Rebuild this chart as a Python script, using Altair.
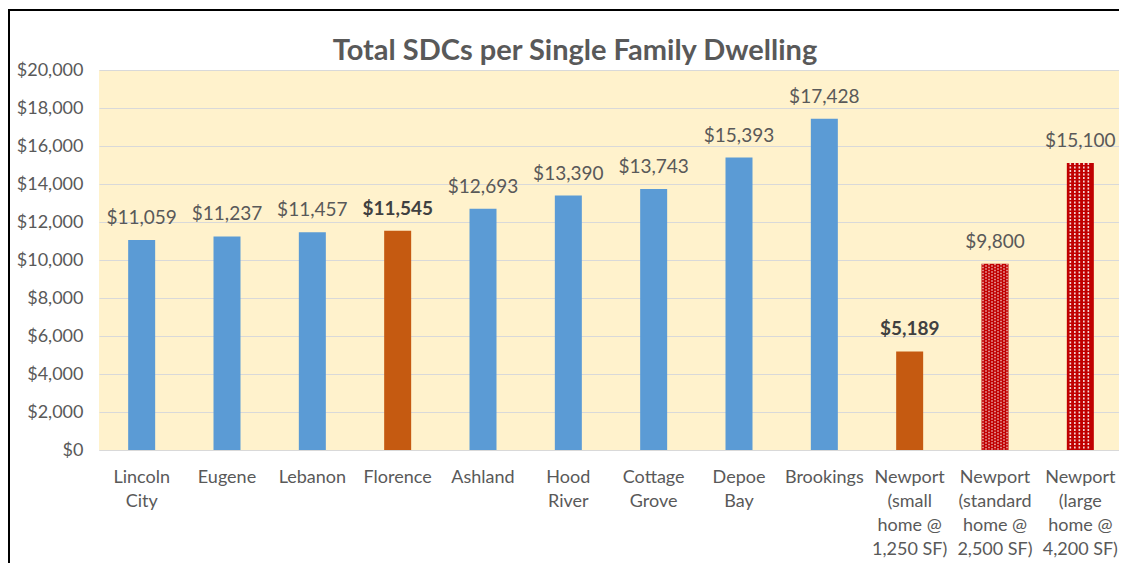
import altair as alt
import pandas as pd

title_text = "Total SDCs per Single Family Dwelling"
categories = [
    "Lincoln|City", "Eugene", "Lebanon", "Florence", "Ashland", "Hood|River",
    "Cottage|Grove", "Depoe|Bay", "Brookings",
    "Newport|(small|home @|1,250 SF)",
    "Newport|(standard|home @|2,500 SF)",
    "Newport|(large|home @|4,200 SF)",
]
values = [11059, 11237, 11457, 11545, 12693, 13390, 13743, 15393, 17428, 5189, 9800, 15100]
groups = ["other", "other", "other", "florence", "other", "other", "other", "other", "other",
          "newport_small", "newport_standard", "newport_large"]
bold = [False, False, False, True, False, False, False, False, False, True, False, False]
y_ticks = [0, 2000, 4000, 6000, 8000, 10000, 12000, 14000, 16000, 18000, 20000]

df = pd.DataFrame({"cat": categories, "value": values, "group": groups, "bold": bold})

FONT = "Lato"
GRAY = "#595959"

x_enc = alt.X("cat:N", sort=categories,
              scale=alt.Scale(range=[0, 1024], paddingInner=0, paddingOuter=0),
              axis=alt.Axis(title=None, labelAngle=0, labelExpr="split(datum.value, '|')",
                            labelFontSize=18, labelColor=GRAY, labelLineHeight=24,
                            labelPadding=18, ticks=False, domain=True, domainColor="#D9D9D9",
                            grid=False, labelFont=FONT, labelOverlap=False))
y_enc = alt.Y("value:Q", scale=alt.Scale(domain=[0, 20000], nice=False),
              axis=alt.Axis(title=None, values=y_ticks, format="$,.0f", labelFontSize=18,
                            labelColor=GRAY, labelPadding=16, ticks=False, domain=False,
                            grid=True, gridColor="#D9D9D9", gridWidth=1, labelFont=FONT,
                            labelOverlap=False))

base = alt.Chart(df)

bars = base.mark_bar(size=27).encode(
    x=x_enc, y=y_enc,
    color=alt.Color("group:N", legend=None,
                    scale=alt.Scale(domain=["other", "florence", "newport_small", "newport_standard", "newport_large"],
                                    range=["#5B9BD5", "#C55A11", "#C55A11", "#C00000", "#C00000"])),
)

layers = [bars]

# hatch texture for standard home (checkered dots)
for i, off in enumerate([-12, -9, -6, -3, 0, 3, 6, 9, 12]):
    layers.append(
        base.transform_filter(alt.datum.group == "newport_standard").mark_rule(
            color="white", strokeWidth=1.3, strokeDash=[1.5, 1.5],
            strokeDashOffset=(1.5 if i % 2 else 0), xOffset=off, opacity=0.8
        ).encode(x=x_enc, y=y_enc, y2=alt.datum(0))
    )
# hatch texture for large home (vertical dotted stripes)
for off in [-10, -5.5, -1, 3.5, 8]:
    layers.append(
        base.transform_filter(alt.datum.group == "newport_large").mark_rule(
            color="white", strokeWidth=1.6, strokeDash=[2, 1.5], xOffset=off, opacity=0.85
        ).encode(x=x_enc, y=y_enc, y2=alt.datum(0))
    )

labels_normal = base.transform_filter(alt.datum.bold == False).mark_text(
    baseline="middle", dy=-22, fontSize=19, color=GRAY, font=FONT
).encode(x=x_enc, y=y_enc, text=alt.Text("value:Q", format="$,.0f"))
labels_bold = base.transform_filter(alt.datum.bold == True).mark_text(
    baseline="middle", dy=-22, fontSize=19, color="#404040", fontWeight="bold", font=FONT
).encode(x=x_enc, y=y_enc, text=alt.Text("value:Q", format="$,.0f"))
layers += [labels_normal, labels_bold]

one = pd.DataFrame({"t": [title_text]})
title = alt.Chart(one).mark_text(
    fontSize=29, fontWeight="bold", color=GRAY, font=FONT, align="center", baseline="middle"
).encode(text="t:N", x=alt.value(476), y=alt.value(-19))
border = alt.Chart(one).mark_rect(
    fillOpacity=0, stroke="black", strokeWidth=2
).encode(x=alt.value(-90), x2=alt.value(1300), y=alt.value(-60), y2=alt.value(700))
layers += [title, border]

chart = alt.layer(*layers).properties(
    width=1020, height=380,
    autosize=alt.AutoSizeParams(type="none"),
    padding={"left": 91, "top": 62, "right": 0, "bottom": 113},
    background="white",
).configure(font=FONT).configure_view(fill="#FFF2CC", strokeWidth=0)

chart.save("out.html", embed_options={"renderer": "svg", "actions": False})
